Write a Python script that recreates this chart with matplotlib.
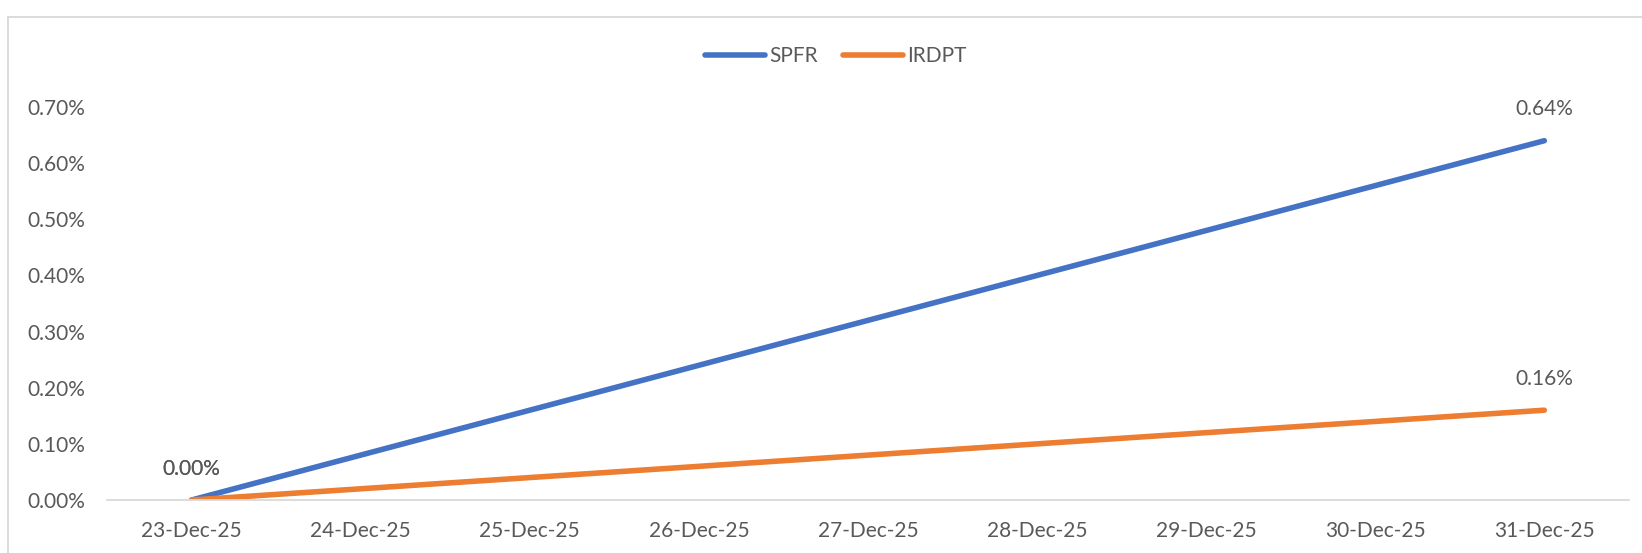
import matplotlib
matplotlib.use("Agg")
import matplotlib.pyplot as plt
from matplotlib.lines import Line2D
from matplotlib.ticker import PercentFormatter

# dados
datas = ["23-Dec-25", "24-Dec-25", "25-Dec-25", "26-Dec-25", "27-Dec-25",
         "28-Dec-25", "29-Dec-25", "30-Dec-25", "31-Dec-25"]
pontos_idx = [0, 8]
spfr = [0.0, 0.0064]
irdpt = [0.0, 0.0016]
y_ticks = [0.0, 0.001, 0.002, 0.003, 0.004, 0.005, 0.006, 0.007]

# cores
azul = "#4472C4"
laranja = "#ED7D31"
texto = "#595959"
cinza = "#D9D9D9"

plt.rcParams["font.family"] = ["Lato", "DejaVu Sans"]

fig = plt.figure(figsize=(16.42, 5.53), dpi=100)
ax = fig.add_axes([0.0652, 0.0958, 0.9268, 0.7107])

ax.plot(pontos_idx, spfr, color=azul, lw=4.0, solid_capstyle="round", label="SPFR")
ax.plot(pontos_idx, irdpt, color=laranja, lw=4.0, solid_capstyle="round", label="IRDPT")

for serie in (spfr, irdpt):
    for i, v in zip(pontos_idx, serie):
        ax.annotate(f"{v*100:.2f}%", (i, v), xytext=(0, 22.5), textcoords="offset points",
                    ha="center", va="center", fontsize=15, color=texto)

ax.set_xlim(-0.5, 8.5)
ax.set_ylim(0, 0.007)
ax.set_xticks(range(len(datas)))
ax.set_xticklabels(datas)
ax.set_yticks(y_ticks)
ax.yaxis.set_major_formatter(PercentFormatter(1.0, decimals=2))
ax.tick_params(axis="both", length=0, labelsize=15, labelcolor=texto)
ax.tick_params(axis="x", pad=15)
ax.tick_params(axis="y", pad=16)

for lado in ("top", "right", "left"):
    ax.spines[lado].set_visible(False)
ax.spines["bottom"].set_color(cinza)
ax.spines["bottom"].set_linewidth(1.3)

# borda do grafico
fig.add_artist(Line2D([8 / 1642, 8 / 1642], [0, 1 - 17 / 553], transform=fig.transFigure,
                      color=cinza, lw=1.3))
fig.add_artist(Line2D([8 / 1642, 1], [1 - 17 / 553, 1 - 17 / 553], transform=fig.transFigure,
                      color=cinza, lw=1.3))

fig.legend(loc="center", bbox_to_anchor=(0.509, 1 - 56 / 553), ncol=2, frameon=False,
           fontsize=15, labelcolor=texto, handlelength=2.9, handletextpad=0.2,
           columnspacing=1.2)

fig.savefig("out.png", dpi=100, facecolor="white")
